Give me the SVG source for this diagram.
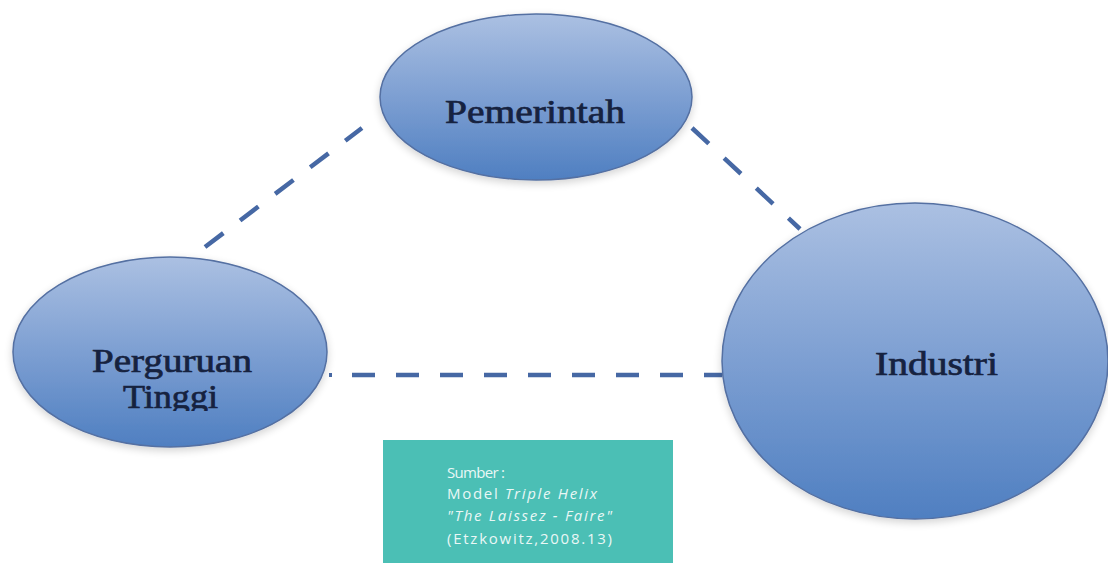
<svg xmlns="http://www.w3.org/2000/svg" width="1108" height="563" viewBox="0 0 1108 563">
<defs>
<linearGradient id="blueFill" x1="0" y1="0" x2="0" y2="1">
<stop offset="0" stop-color="#abc0e2"/>
<stop offset="0.5" stop-color="#7d9fd2"/>
<stop offset="1" stop-color="#4f7fc1"/>
</linearGradient>
<filter id="glow" x="-10%" y="-10%" width="120%" height="120%">
<feGaussianBlur in="SourceAlpha" stdDeviation="4"/>
<feOffset dx="0" dy="3"/>
<feComponentTransfer><feFuncA type="linear" slope="0.18"/></feComponentTransfer>
<feMerge><feMergeNode/><feMergeNode in="SourceGraphic"/></feMerge>
</filter>
<clipPath id="tinggiClip"><rect x="0" y="0" width="400" height="411"/></clipPath>
</defs>
<style>
.node{fill:url(#blueFill);stroke:#5470a2;stroke-width:1.5;filter:url(#glow)}
.lbl{font-family:"Liberation Serif","Times New Roman",serif;font-size:33px;fill:#16223f;stroke:#16223f;stroke-width:0.7}
.dash{stroke:#4668a4;stroke-width:4.5;stroke-dasharray:23 21;stroke-linecap:butt;fill:none}
.src{font-family:"Open Sans","Liberation Sans",sans-serif;font-size:15px;fill:#eaf7f5}
</style>
<rect width="1108" height="563" fill="#ffffff"/>
<g id="connectors">
<line class="dash" x1="205" y1="247" x2="362" y2="128"/>
<line class="dash" x1="692" y1="128" x2="800" y2="229"/>
<line class="dash" x1="352" y1="375" x2="722" y2="375"/>
<rect x="329" y="373" width="3" height="4" fill="#4668a4"/>
</g>
<g id="pemerintah">
<ellipse class="node" cx="536" cy="97" rx="156" ry="83"/>
<text class="lbl" x="445" y="123" textLength="180" lengthAdjust="spacingAndGlyphs">Pemerintah</text>
</g>
<g id="perguruan-tinggi">
<ellipse class="node" cx="170" cy="352" rx="157" ry="95"/>
<text class="lbl" x="92" y="372" textLength="160" lengthAdjust="spacingAndGlyphs">Perguruan</text>
<text class="lbl" x="123" y="408" font-size="32" textLength="95" lengthAdjust="spacingAndGlyphs" clip-path="url(#tinggiClip)">Tinggi</text>
</g>
<g id="industri">
<ellipse class="node" cx="915" cy="361" rx="193" ry="158"/>
<text class="lbl" x="875" y="375" textLength="123" lengthAdjust="spacingAndGlyphs">Industri</text>
</g>
<g id="source">
<rect x="383" y="440" width="290" height="123" fill="#4bbfb5"/>
<text class="src" x="447" y="478" textLength="58" lengthAdjust="spacing">Sumber :</text>
<text class="src" x="447" y="499" textLength="150" lengthAdjust="spacing">Model <tspan font-style="italic">Triple Helix</tspan></text>
<text class="src" x="447" y="521" font-style="italic" textLength="165" lengthAdjust="spacing">"The Laissez - Faire"</text>
<text class="src" x="447" y="544" textLength="165" lengthAdjust="spacing">(Etzkowitz,2008.13)</text>
</g>
</svg>
